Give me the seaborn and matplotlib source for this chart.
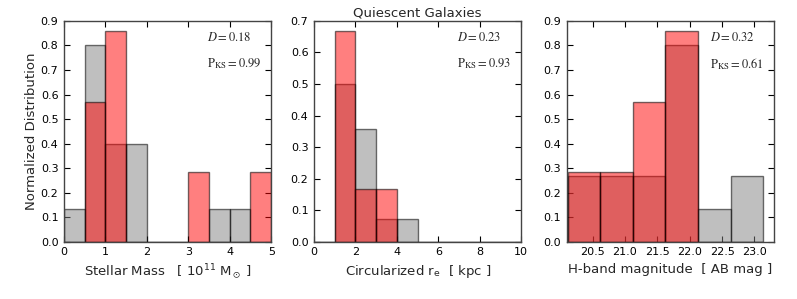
import numpy as np
import pandas as pd
import matplotlib
matplotlib.use("Agg")
import matplotlib.pyplot as plt
import seaborn as sns

sns.set_theme(style="ticks")
plt.rcParams['font.family'] = ['DejaVu Sans']
plt.rcParams['mathtext.fontset'] = 'stix'

# Panel 1: stellar mass (bins of 0.5 from 0 to 5)
mass_edges = [0, 0.5, 1.0, 1.5, 2.0, 2.5, 3.0, 3.5, 4.0, 4.5, 5.0]
mass_gray = [0.133, 0.8, 0.4, 0.4, 0, 0, 0, 0.133, 0.133, 0]
mass_red = [0, 0.571, 0.857, 0, 0, 0, 0.286, 0, 0, 0.286]

# Panel 2: circularized radius (bins of 1 from 0 to 10)
re_edges = [0, 1, 2, 3, 4, 5, 6, 7, 8, 9, 10]
re_gray = [0, 0.5, 0.357, 0.071, 0.071, 0, 0, 0, 0, 0]
re_red = [0, 0.667, 0.167, 0.167, 0, 0, 0, 0, 0, 0]

# Panel 3: H-band magnitude
h_edges = [20.12, 20.622, 21.124, 21.626, 22.128, 22.63, 23.132]
h_gray = [0.267, 0.267, 0.267, 0.8, 0.133, 0.267]
h_red = [0.286, 0.286, 0.571, 0.857, 0, 0]

stats = [("0.18", "0.99"), ("0.23", "0.93"), ("0.32", "0.61")]

fig = plt.figure(figsize=(7.97, 2.99), dpi=100)
lefts = [0.0803, 0.394, 0.711]
w = 0.26
bottom, top = 0.191, 0.930
axes = [fig.add_axes([l, bottom, w, top - bottom]) for l in lefts]

panels = [
    (mass_edges, mass_gray, mass_red, (0, 5), (0, 0.9)),
    (re_edges, re_gray, re_red, (0, 10), (0, 0.7)),
    (h_edges, h_gray, h_red, (20.1, 23.3), (0, 0.9)),
]

for ax, (edges, g, r, xl, yl), (d, p) in zip(axes, panels, stats):
    e = np.array(edges, dtype=float)
    centers = (e[:-1] + e[1:]) / 2
    df = pd.DataFrame({"x": centers, "gray": g, "red": r})
    sns.histplot(data=df, x="x", weights="gray", bins=list(edges), stat="count",
                 color="gray", alpha=0.5, edgecolor=(0, 0, 0, 0.55),
                 linewidth=1.0, ax=ax)
    sns.histplot(data=df, x="x", weights="red", bins=list(edges), stat="count",
                 color="red", alpha=0.5, edgecolor=(0, 0, 0, 0.55),
                 linewidth=1.0, ax=ax)
    ax.set_xlim(*xl)
    ax.set_ylim(*yl)
    ax.set_ylabel("")
    ax.tick_params(direction="in", top=True, right=True, labelsize=8,
                   length=4, width=0.8, pad=4, colors="black")
    for s in ax.spines.values():
        s.set_linewidth(1.0)
        s.set_color("#444444")
    ax.text(0.69, 0.923, r"$D=$" + "$" + d + "$", transform=ax.transAxes,
            fontsize=9, va="center", ha="left")
    ax.text(0.69, 0.805, r"$\rm P_{KS}=" + p + "$", transform=ax.transAxes,
            fontsize=9, va="center", ha="left")

axes[0].set_yticks(np.arange(0, 0.91, 0.1))
axes[0].set_yticklabels([f"{v:.1f}" for v in np.arange(0, 0.91, 0.1)])
axes[0].set_xticks([0, 1, 2, 3, 4, 5])
axes[1].set_yticks(np.arange(0, 0.71, 0.1))
axes[1].set_yticklabels([f"{v:.1f}" for v in np.arange(0, 0.71, 0.1)])
axes[1].set_xticks([0, 2, 4, 6, 8, 10])
axes[2].set_yticks(np.arange(0, 0.91, 0.1))
axes[2].set_yticklabels([f"{v:.1f}" for v in np.arange(0, 0.91, 0.1)])
axes[2].set_xticks([20.5, 21.0, 21.5, 22.0, 22.5, 23.0])
axes[2].set_xticklabels(["20.5", "21.0", "21.5", "22.0", "22.5", "23.0"])

axes[0].set_ylabel("Normalized Distribution", fontsize=9.5, labelpad=2)
axes[0].set_xlabel(r"Stellar Mass   [ $\mathregular{10^{11}}$ M$_\odot$ ]", fontsize=9.5, labelpad=4)
axes[1].set_xlabel(r"Circularized r$_\mathregular{e}$  [ kpc ]", fontsize=9.5, labelpad=4)
axes[2].set_xlabel("H-band magnitude  [ AB mag ]", fontsize=9.5, labelpad=4)
axes[1].set_title("Quiescent Galaxies", fontsize=9.5, pad=3)

fig.savefig("out.png", dpi=100)
